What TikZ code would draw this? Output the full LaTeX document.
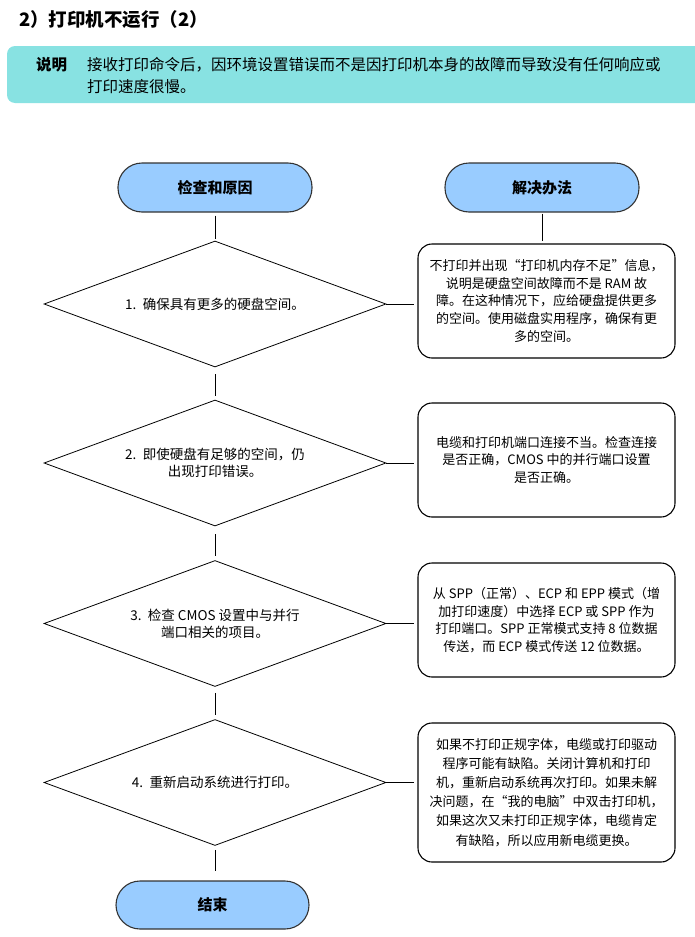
\documentclass[tikz,border=0pt]{standalone}
\usepackage{fontspec}
\setmainfont{Noto Sans CJK SC}
\usetikzlibrary{shapes.geometric}
\definecolor{bannercol}{HTML}{88E2E2}
\definecolor{termfill}{HTML}{99CCFF}
\definecolor{termdraw}{HTML}{333333}
\begin{document}
\begin{tikzpicture}[x=1pt,y=-1pt,
 term/.style={draw=termdraw, line width=1.1pt, fill=termfill, rounded corners=24pt,
   minimum width=194pt, minimum height=49pt, inner sep=0pt,
   font=\fontsize{15}{18}\selectfont\bfseries},
 decision/.style={diamond, aspect=2.714, draw, line width=0.8pt, minimum width=342pt, minimum height=126pt,
   inner sep=0pt, align=center, font=\fontsize{13.5}{17}\selectfont},
 sol/.style={draw, line width=1.1pt, rounded corners=14pt, minimum width=257pt,
   inner sep=0pt, align=center},
 conn/.style={line width=0.9pt}
]
\useasboundingbox (0,0) rectangle (695,937);

% header
\node[anchor=west, inner sep=0pt, font=\fontsize{18.5}{20}\selectfont\bfseries] (title) at (19,20) {2）打印机不运行（2）};
\fill[bannercol, rounded corners=8pt] (7,46) rectangle (730,103);
\node[anchor=west, inner sep=0pt, font=\fontsize{15.5}{20}\selectfont\bfseries] (shuoming) at (36,65) {说明};
\node[anchor=north west, inner sep=0pt, align=left, font=\fontsize{15.5}{22}\selectfont] (desc) at (87,57.3)
 {接收打印命令后，因环境设置错误而不是因打印机本身的故障而导致没有任何响应或\\打印速度很慢。};

% left column
\node[term] (t1) at (215,187.5) {检查和原因};
\node[decision] (d1) at (215,304) {1.\, 确保具有更多的硬盘空间。};
\node[decision] (d2) at (215,463) {2.\, 即使硬盘有足够的空间，仍\\出现打印错误。};
\node[decision] (d3) at (215,623.5) {3.\, 检查 CMOS 设置中与并行\\端口相关的项目。};
\node[decision] (d4) at (215,782.5) {4.\, 重新启动系统进行打印。};
\node[term, minimum width=193pt, minimum height=48pt] (tend) at (212.5,905) {结束};

% right column
\node[term] (t2) at (542,187.5) {解决办法};
\node[sol, minimum height=114pt, font=\fontsize{13}{17.7}\selectfont] (b1) at (546.5,301)
 {不打印并出现“打印机内存不足”信息，\\说明是硬盘空间故障而不是 RAM 故\\障。在这种情况下，应给硬盘提供更多\\的空间。使用磁盘实用程序，确保有更\\多的空间。};
\node[sol, minimum height=114pt, font=\fontsize{13}{17.5}\selectfont] (b2) at (546.5,460)
 {电缆和打印机端口连接不当。检查连接\\是否正确，CMOS 中的并行端口设置\\是否正确。};
\node[sol, minimum height=114pt, font=\fontsize{13}{17.7}\selectfont] (b3) at (546.5,620)
 {从 SPP（正常）、ECP 和 EPP 模式（增\\加打印速度）中选择 ECP 或 SPP 作为\\打印端口。SPP 正常模式支持 8 位数据\\传送，而 ECP 模式传送 12 位数据。};
\node[sol, minimum height=139pt, font=\fontsize{13}{19.1}\selectfont] (b4) at (546.5,792.5)
 {如果不打印正规字体，电缆或打印驱动\\程序可能有缺陷。关闭计算机和打印\\机，重新启动系统再次打印。如果未解\\决问题，在“我的电脑”中双击打印机，\\如果这次又未打印正规字体，电缆肯定\\有缺陷，所以应用新电缆更换。};

% connectors
\draw[conn, shorten <=3pt, shorten >=2pt] (t1.south) -- (d1.north);
\draw[conn, shorten <=7pt, shorten >=4pt] (d1.south) -- (d2.north);
\draw[conn, shorten <=8pt, shorten >=4pt] (d2.south) -- (d3.north);
\draw[conn, shorten <=6pt, shorten >=4pt] (d3.south) -- (d4.north);
\draw[conn, shorten <=4pt, shorten >=9pt] (d4.south) -- (d4.south |- tend.north);
\draw[conn, shorten <=1pt, shorten >=2pt] (t2.south) -- (t2.south |- b1.north);
\draw[conn, shorten >=3pt] (d1.east) -- (d1.east -| b1.west);
\draw[conn, shorten >=3pt] (d2.east) -- (d2.east -| b2.west);
\draw[conn, shorten >=3pt] (d3.east) -- (d3.east -| b3.west);
\draw[conn, shorten >=3pt] (d4.east) -- (d4.east -| b4.west);
\end{tikzpicture}
\end{document}
